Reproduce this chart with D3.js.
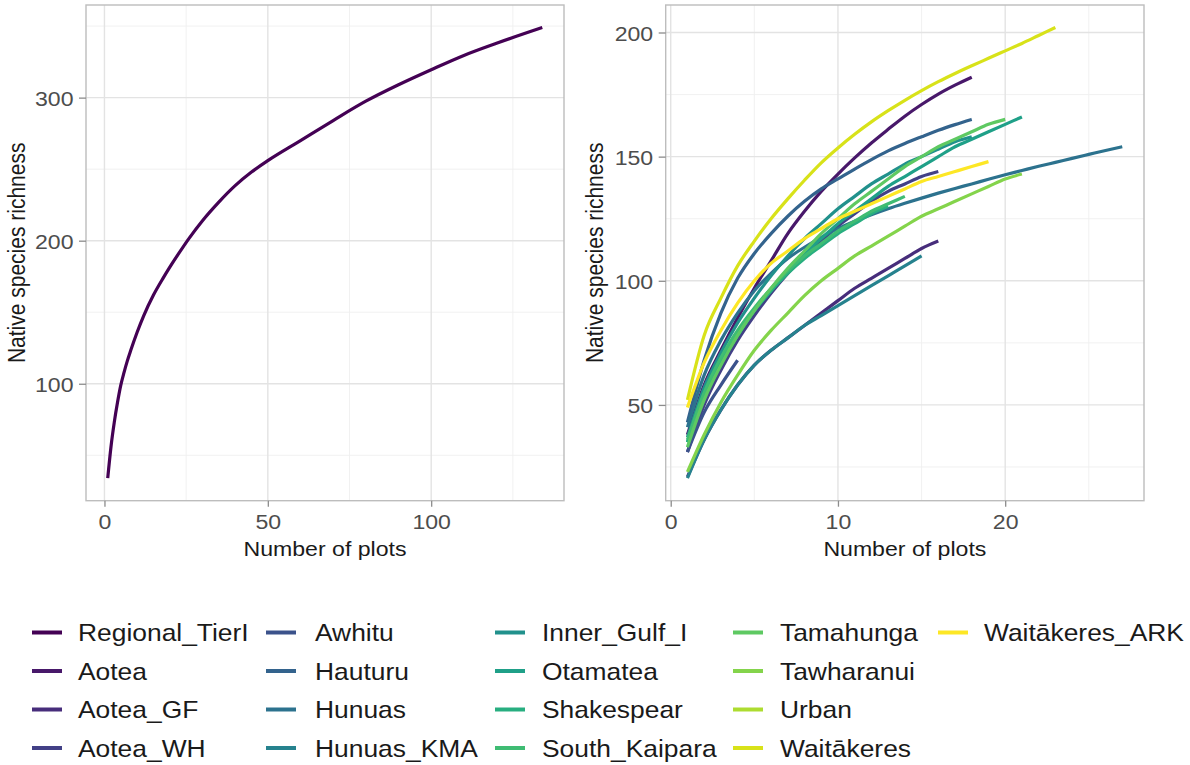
<!DOCTYPE html>
<html>
<head>
<meta charset="utf-8">
<script src="https://cdn.jsdelivr.net/npm/d3@7"></script>
<style>
  body { margin: 0; background: #ffffff; }
  text { font-family: "Liberation Sans", Arial, sans-serif; }
</style>
</head>
<body>
<svg id="chart" width="1190" height="765"></svg>
<script>
// Regional (Tier I) accumulation curve: number of plots vs native species richness
const regionalPlots    = [1, 2, 3, 4, 5, 6, 7, 8, 10, 12, 15, 18, 20, 23, 26, 30, 35, 40, 45, 50, 60, 70, 80, 90, 100, 110, 120, 134];
const regionalRichness = [34, 56, 73, 87, 99, 108, 116, 123, 136, 147.5, 162, 174, 181.5, 192, 202, 214, 227, 238.5, 248, 256, 270, 284, 297.5, 309, 319.5, 329.5, 338, 349];

// Site names (legend order) and per-site accumulation curves, values for 1..n plots
const siteNames = [
  "Regional_TierI", "Aotea", "Aotea_GF", "Aotea_WH", "Awhitu", "Hauturu", "Hunuas",
  "Hunuas_KMA", "Inner_Gulf_I", "Otamatea", "Shakespear", "South_Kaipara",
  "Tamahunga", "Tawharanui", "Urban", "Waitākeres", "Waitākeres_ARK"
];
const siteRichness = [
  [], // Regional_TierI is drawn in the left panel
  [38, 58, 72, 85, 97, 108, 119, 128, 136, 143, 149.5, 155.5, 161, 166.3, 171, 175.2, 178.8, 182],
  [21, 36, 48, 58, 66, 72, 77, 82, 87, 92, 97, 101, 105, 109, 113, 116],
  [31, 50, 64, 76, 86, 95, 103, 110, 116, 122, 127, 132, 136, 139, 142, 144],
  [31, 47, 58, 68],
  [43, 68, 87, 101, 111, 119, 126, 132, 137, 141, 145, 148.8, 152.3, 155.3, 158, 160.6, 162.9, 165],
  [41, 62, 76, 87, 96, 103, 109, 113.5, 117.5, 121, 124, 126.6, 129, 131.2, 133.3, 135.3, 137.2, 139, 140.9, 142.7, 144.4, 146.1, 147.7, 149.3, 150.9, 152.5, 154],
  [20.5, 36, 48, 58, 66, 72, 77, 82, 86, 90, 94, 98, 102, 106, 110],
  [37, 57, 71, 83, 93, 102, 110, 117, 123, 129, 134, 139, 143, 147, 150, 153, 156, 158],
  [35, 54, 67, 78, 88, 96, 104, 111, 117, 123, 128, 133, 138, 142, 146, 150, 154, 157, 160, 163, 166],
  [35, 53, 67, 78, 88, 96, 103, 109, 114, 119, 123, 127, 130],
  [36, 55, 69, 80, 89, 97, 104, 110, 115, 120, 124, 128, 131, 134],
  [33, 52, 66, 78, 88, 97, 105, 112, 119, 125, 131, 136, 141, 146, 150, 154, 157, 160, 163, 165],
  [23, 38, 51, 62, 72, 80, 87, 94, 100, 105, 110, 114, 118, 122, 126, 129, 132, 135, 138, 141, 143],
  [30],
  [52, 78, 93, 106, 116, 125, 133, 140.5, 147.5, 153.5, 159, 164, 168.5, 172.7, 176.6, 180.2, 183.5, 186.6, 189.6, 192.6, 195.6, 198.8, 202],
  [49, 67, 80, 91, 100, 107, 112, 117, 121, 125, 128, 131, 134, 137, 140, 142, 144, 146, 148]
];

const leftXTicks  = [0, 50, 100];
const leftYTicks  = [100, 200, 300];
const rightXTicks = [0, 10, 20];
const rightYTicks = [50, 100, 150, 200];

const xTitle = "Number of plots";
const yTitle = "Native species richness";

const svg = d3.select("#chart");
const colour = d3.scaleOrdinal()
  .domain(siteNames)
  .range(siteNames.map((d, i) => d3.interpolateViridis(i / (siteNames.length - 1))));

const STRETCH = 1.1;       // horizontal text stretch
const FONT = 21;
const TEXT_GREY = "#4d4d4d";

function expanded(lo, hi) {
  const pad = (hi - lo) * 0.05;
  return [lo - pad, hi + pad];
}

function drawPanel(box, seriesList, xTicks, yTicks, xMinor, yMinor) {
  const allX = seriesList.flatMap(s => s.points.map(p => p[0]));
  const allY = seriesList.flatMap(s => s.points.map(p => p[1]));
  const x = d3.scaleLinear().domain(expanded(d3.min(allX), d3.max(allX))).range([box.x0, box.x1]);
  const y = d3.scaleLinear().domain(expanded(d3.min(allY), d3.max(allY))).range([box.y1, box.y0]);

  const g = svg.append("g");
  const grid = g.append("g");
  xMinor.forEach(v => grid.append("line")
    .attr("x1", x(v)).attr("x2", x(v)).attr("y1", box.y0).attr("y2", box.y1)
    .attr("stroke", "#efefef").attr("stroke-width", 0.9));
  yMinor.forEach(v => grid.append("line")
    .attr("y1", y(v)).attr("y2", y(v)).attr("x1", box.x0).attr("x2", box.x1)
    .attr("stroke", "#efefef").attr("stroke-width", 0.9));
  xTicks.forEach(v => grid.append("line")
    .attr("x1", x(v)).attr("x2", x(v)).attr("y1", box.y0).attr("y2", box.y1)
    .attr("stroke", "#e3e3e3").attr("stroke-width", 1.4));
  yTicks.forEach(v => grid.append("line")
    .attr("y1", y(v)).attr("y2", y(v)).attr("x1", box.x0).attr("x2", box.x1)
    .attr("stroke", "#e3e3e3").attr("stroke-width", 1.4));

  const line = d3.line().x(p => x(p[0])).y(p => y(p[1])).curve(d3.curveMonotoneX);
  g.append("g").selectAll("path").data(seriesList.filter(s => s.points.length > 1)).join("path")
    .attr("d", s => line(s.points))
    .attr("fill", "none")
    .attr("stroke", s => colour(s.name))
    .attr("stroke-width", 3.2)
    .attr("stroke-linejoin", "round")
    .attr("stroke-linecap", "butt");

  g.append("rect")
    .attr("x", box.x0).attr("y", box.y0)
    .attr("width", box.x1 - box.x0).attr("height", box.y1 - box.y0)
    .attr("fill", "none").attr("stroke", "#bdbdbd").attr("stroke-width", 1.4);

  // axes
  const xAxis = d3.axisBottom(x).tickValues(xTicks).tickSize(6).tickPadding(0).tickFormat(d3.format("d"));
  const yAxis = d3.axisLeft(y).tickValues(yTicks).tickSize(7).tickPadding(0).tickFormat(d3.format("d"));
  const gx = g.append("g").attr("transform", `translate(0,${box.y1})`).call(xAxis);
  const gy = g.append("g").attr("transform", `translate(${box.x0},0)`).call(yAxis);
  [gx, gy].forEach(a => {
    a.select(".domain").remove();
    a.selectAll(".tick line").attr("stroke", "#8c8c8c").attr("stroke-width", 1.3);
    a.selectAll(".tick text").remove();
  });
  gx.selectAll(".tick").append("text")
    .attr("transform", `translate(0,${28}) scale(${STRETCH},1)`)
    .attr("text-anchor", "middle").attr("fill", TEXT_GREY)
    .style("font-size", FONT + "px").text(d => d);
  gy.selectAll(".tick").append("text")
    .attr("transform", `translate(-12.5,7.6) scale(${STRETCH},1)`)
    .attr("text-anchor", "end").attr("fill", TEXT_GREY)
    .style("font-size", FONT + "px").text(d => d);

  g.append("text")
    .attr("transform", `translate(${(box.x0 + box.x1) / 2},556) scale(${STRETCH},1)`)
    .attr("text-anchor", "middle").attr("fill", "#1a1a1a")
    .style("font-size", FONT + "px").text(xTitle);
  g.append("text")
    .attr("transform", `translate(${box.titleX},${(box.y0 + box.y1) / 2}) rotate(-90) scale(1,${STRETCH})`)
    .attr("text-anchor", "middle").attr("fill", "#1a1a1a")
    .style("font-size", FONT + "px").text(yTitle);
}

// left panel: regional curve
drawPanel(
  { x0: 86, x1: 564, y0: 5, y1: 500.7, titleX: 25 },
  [{ name: siteNames[0], points: regionalPlots.map((p, i) => [p, regionalRichness[i]]) }],
  leftXTicks, leftYTicks, [25, 75, 125], [50, 150, 250, 350]
);

// right panel: per-site curves
const siteSeries = siteNames.map((name, i) => ({
  name, points: siteRichness[i].map((v, j) => [j + 1, v])
})).filter(s => s.points.length);
drawPanel(
  { x0: 665.7, x1: 1144, y0: 5, y1: 500.7, titleX: 603 },
  siteSeries,
  rightXTicks, rightYTicks, [5, 15, 25], [25, 75, 125, 175]
);

// legend: five columns, four rows
const legendColsKeyX = [32, 266, 495, 733, 938];
const legendColsTextX = [78, 315, 542, 780, 984];
const legendRowY = [632.5, 671, 709.5, 748];
const leg = svg.append("g");
siteNames.forEach((name, i) => {
  const col = Math.floor(i / 4), row = i % 4;
  const kx = legendColsKeyX[col], ty = legendRowY[row];
  leg.append("line")
    .attr("x1", kx).attr("x2", kx + 30).attr("y1", ty).attr("y2", ty)
    .attr("stroke", colour(name)).attr("stroke-width", 4);
  leg.append("text")
    .attr("transform", `translate(${legendColsTextX[col]},${ty + 8.6}) scale(${STRETCH},1)`)
    .attr("fill", "#1a1a1a").style("font-size", "24px").text(name);
});
</script>
</body>
</html>
